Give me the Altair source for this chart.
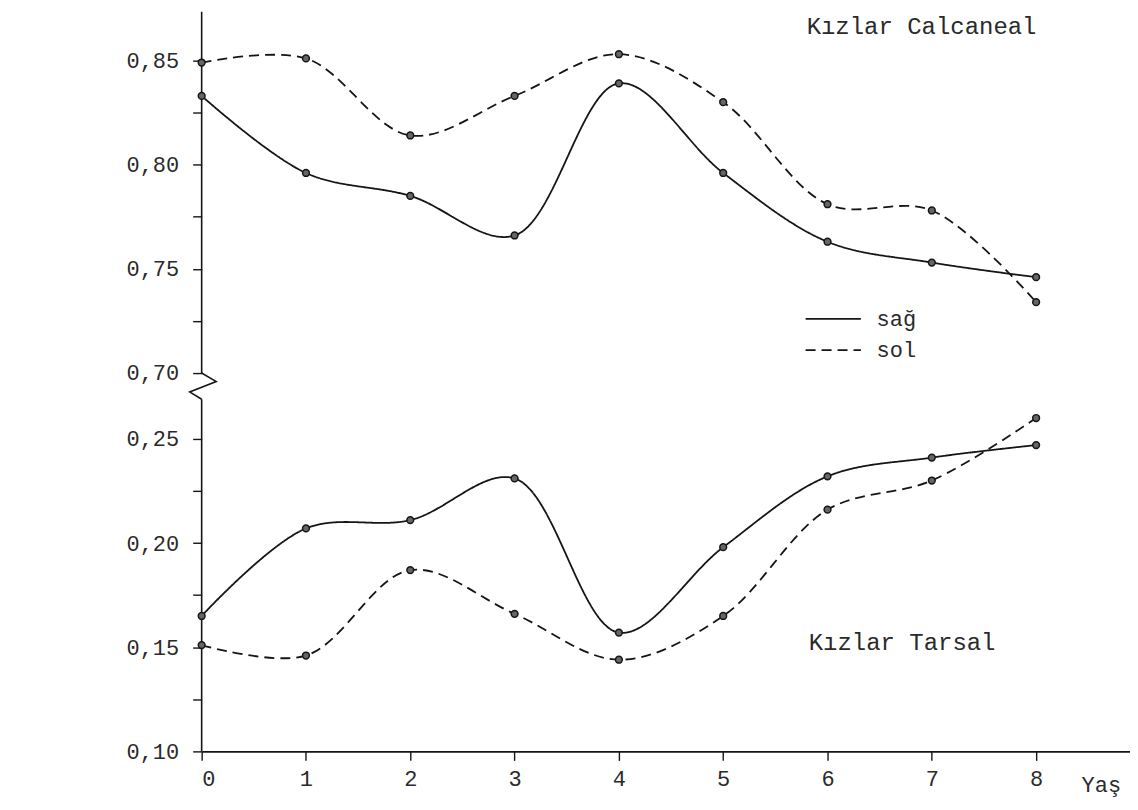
import altair as alt
import pandas as pd

# ---- data ----
ages = [0, 1, 2, 3, 4, 5, 6, 7, 8]
calcaneal_sag = [0.833, 0.796, 0.785, 0.766, 0.839, 0.796, 0.763, 0.753, 0.746]
calcaneal_sol = [0.849, 0.851, 0.814, 0.833, 0.853, 0.830, 0.781, 0.778, 0.734]
tarsal_sag = [0.165, 0.207, 0.211, 0.231, 0.157, 0.198, 0.232, 0.241, 0.247]
tarsal_sol = [0.151, 0.146, 0.187, 0.166, 0.144, 0.165, 0.216, 0.230, 0.260]

x_tick_values = [0, 1, 2, 3, 4, 5, 6, 7, 8]
y_tick_real = [0.10, 0.125, 0.15, 0.175, 0.20, 0.225, 0.25,
               0.70, 0.725, 0.75, 0.775, 0.80, 0.825, 0.85]

side_labels = ["sağ", "sol"]
panel_titles = ["Kızlar Calcaneal", "Kızlar Tarsal"]

# broken axis: values above the break are shifted down by this amount
BREAK_SHIFT = 0.4184

rows = []
for region, side, vals in [("Calcaneal", "sağ", calcaneal_sag),
                           ("Calcaneal", "sol", calcaneal_sol),
                           ("Tarsal", "sağ", tarsal_sag),
                           ("Tarsal", "sol", tarsal_sol)]:
    for a, v in zip(ages, vals):
        rows.append({"age": a, "value": v, "series": f"{region} {side}", "side": side})
df = pd.DataFrame(rows)

disp_expr = f"datum.value < 0.5 ? datum.value : datum.value - {BREAK_SHIFT}"

y_tick_disp = [round(v if v < 0.5 else v - BREAK_SHIFT, 4) for v in y_tick_real]
real_expr = f"(datum.value < 0.27 ? datum.value : datum.value + {BREAK_SHIFT})"
label_expr = (f"abs({real_expr}*20 - round({real_expr}*20)) > 0.1 ? '' : "
              f"replace(format({real_expr}, '.2f'), '.', ',')")

FONT = "Liberation Mono"
INK = "#151515"
TEXT = "#2a2a2a"

x_scale = alt.Scale(domain=[0, 8.9], nice=False, zero=False)
y_scale = alt.Scale(domain=[0.10, 0.455], nice=False, zero=False)
dash_scale = alt.Scale(domain=side_labels, range=[[1, 0], [10, 6]])

x_axis = alt.Axis(values=x_tick_values, format="d", grid=False, tickSize=9,
                  tickColor=INK, domainColor=INK, domainWidth=1.6, tickWidth=1.4,
                  labelFont=FONT, labelFontSize=22, labelColor=TEXT, labelPadding=8,
                  title="Yaş", titleFont=FONT, titleFontSize=22, titleFontWeight="normal",
                  titleColor=TEXT, titleX=881, titleY=33, titleAlign="left",
                  titleBaseline="middle", titleAngle=0)
y_axis = alt.Axis(values=y_tick_disp, labelExpr=label_expr, grid=False, domain=False,
                  tickSize=9, tickColor=INK, tickWidth=1.4,
                  labelFont=FONT, labelFontSize=22, labelColor=TEXT, labelPadding=14,
                  title=None)

base = alt.Chart(df).transform_calculate(d=disp_expr)

lines = base.mark_line(interpolate="catmull-rom", color=INK, strokeWidth=1.8).encode(
    x=alt.X("age:Q", scale=x_scale, axis=x_axis),
    y=alt.Y("d:Q", scale=y_scale, axis=y_axis),
    detail="series:N",
    strokeDash=alt.StrokeDash("side:N", scale=dash_scale, legend=None),
)

points = base.mark_point(filled=True, shape="circle", size=46, fill="#666",
                         stroke=INK, strokeWidth=1.5, opacity=1).encode(
    x=alt.X("age:Q", scale=x_scale),
    y=alt.Y("d:Q", scale=y_scale),
)

# y axis line with a break symbol
axis_df = pd.DataFrame({"y1": [0.10, 0.2816], "y2": [0.269, 0.455]})
axis_rules = alt.Chart(axis_df).mark_rule(color=INK, strokeWidth=1.6).encode(
    x=alt.datum(0, scale=x_scale),
    y=alt.Y("y1:Q", scale=y_scale),
    y2="y2:Q",
)
break_df = pd.DataFrame({"bx": [0, 0.14, -0.115, 0],
                         "by": [0.2816, 0.2775, 0.2725, 0.269],
                         "k": [0, 1, 2, 3]})
break_line = alt.Chart(break_df).mark_line(color=INK, strokeWidth=1.5).encode(
    x=alt.X("bx:Q", scale=x_scale),
    y=alt.Y("by:Q", scale=y_scale),
    order="k:Q",
)

# hand-drawn style legend
legend_df = pd.DataFrame({"side": side_labels, "x1": [5.79, 5.79], "x2": [6.32, 6.32],
                          "value": [0.726, 0.711], "tx": [6.47, 6.47]})
legend_base = alt.Chart(legend_df).transform_calculate(d=disp_expr)
legend_lines = legend_base.mark_rule(color=INK, strokeWidth=1.6).encode(
    x=alt.X("x1:Q", scale=x_scale), x2="x2:Q",
    y=alt.Y("d:Q", scale=y_scale),
    strokeDash=alt.StrokeDash("side:N", scale=alt.Scale(domain=side_labels,
                                                         range=[[1, 0], [8, 4]]), legend=None),
)
legend_text = legend_base.mark_text(align="left", baseline="middle", font=FONT,
                                    fontSize=22, color=TEXT).encode(
    x=alt.X("tx:Q", scale=x_scale),
    y=alt.Y("d:Q", scale=y_scale),
    text="side:N",
)

title_df = pd.DataFrame({"label": panel_titles, "tx": [5.80, 5.82], "value": [0.866, 0.152]})
titles = alt.Chart(title_df).transform_calculate(d=disp_expr).mark_text(
    align="left", baseline="middle", font=FONT, fontSize=24, color=TEXT).encode(
    x=alt.X("tx:Q", scale=x_scale),
    y=alt.Y("d:Q", scale=y_scale),
    text="label:N",
)

chart = alt.layer(axis_rules, break_line, lines, points, legend_lines, legend_text, titles).properties(
    width=930, height=741,
    autosize=alt.AutoSizeParams(type="none"),
    padding={"left": 194, "top": 3, "right": 0, "bottom": 56},
    background="white",
).configure_view(stroke=None)

chart.save("out.html", embed_options={"renderer": "svg", "actions": False})
